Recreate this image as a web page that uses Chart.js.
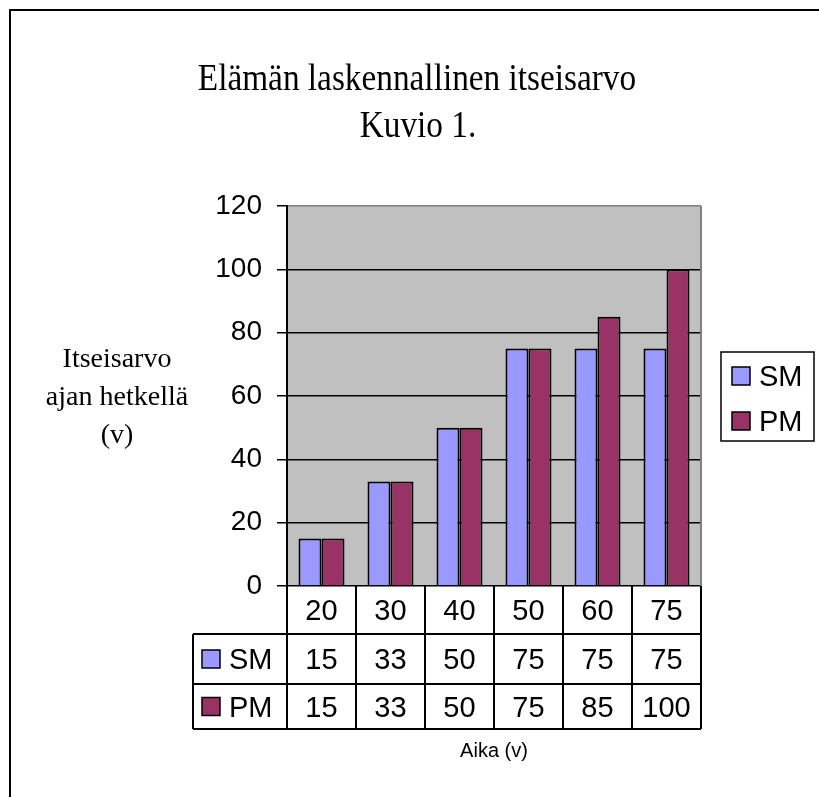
<!DOCTYPE html>
<html><head><meta charset="utf-8">
<script src="https://cdn.jsdelivr.net/npm/chart.js@4.4.0/dist/chart.umd.min.js"></script>
<style>html,body{margin:0;padding:0;background:#fff;} canvas{display:block;}</style>
</head><body>
<canvas id="c" width="819" height="797" style="width:819px;height:797px"></canvas>
<script>
const categories = ['20', '30', '40', '50', '60', '75'];
const smValues = [15, 33, 50, 75, 75, 75];
const pmValues = [15, 33, 50, 75, 85, 100];
const seriesNames = ['SM', 'PM'];
const seriesColors = ['#9999FF', '#993366'];
const yTicks = [0, 20, 40, 60, 80, 100, 120];
const titleLines = ['Elämän laskennallinen itseisarvo', 'Kuvio 1.'];
const yTitleLines = ['Itseisarvo', 'ajan hetkellä', '(v)'];
const xTitle = 'Aika (v)';

const SANS = 'Liberation Sans, Arial, sans-serif';
const SERIF = 'Liberation Serif, Times New Roman, serif';

function txt(ctx, s, x, y, font, align, sx) {
  ctx.save();
  ctx.font = font;
  ctx.fillStyle = '#000';
  ctx.textAlign = align;
  ctx.textBaseline = 'alphabetic';
  ctx.translate(x, y);
  ctx.scale(sx || 1, 1);
  ctx.fillText(s, 0, 0);
  ctx.restore();
}
function marker(ctx, x, y, size, color) {
  ctx.save();
  ctx.fillStyle = color;
  ctx.fillRect(x, y, size, size);
  ctx.strokeStyle = '#000';
  ctx.lineWidth = 1.5;
  ctx.strokeRect(x, y, size, size);
  ctx.restore();
}
function line(ctx, x1, y1, x2, y2, color, w) {
  ctx.save();
  ctx.strokeStyle = color; ctx.lineWidth = w;
  ctx.beginPath(); ctx.moveTo(x1, y1); ctx.lineTo(x2, y2); ctx.stroke();
  ctx.restore();
}

const decor = {
  id: 'decor',
  beforeDraw(chart) {
    const {ctx, chartArea: a} = chart;
    ctx.save();
    ctx.fillStyle = '#fff';
    ctx.fillRect(0, 0, chart.width, chart.height);
    ctx.fillStyle = '#C0C0C0';
    ctx.fillRect(a.left, a.top, a.right - a.left, a.bottom - a.top);
    ctx.restore();
  },
  beforeDatasetsDraw(chart) {
    const {ctx, chartArea: a} = chart;
    line(ctx, a.right, a.top, a.right, a.bottom, '#808080', 2);
  },
  afterDraw(chart) {
    const {ctx, chartArea: a} = chart;
    const xs = chart.scales.x;
    // outer frame
    ctx.save();
    ctx.strokeStyle = '#000'; ctx.lineWidth = 2;
    ctx.beginPath(); ctx.moveTo(10, 797); ctx.lineTo(10, 10); ctx.lineTo(819, 10); ctx.stroke();
    ctx.restore();
    // title
    txt(ctx, titleLines[0], 417, 90, '37px ' + SERIF, 'center', 0.9);
    txt(ctx, titleLines[1], 418, 137, '37px ' + SERIF, 'center', 0.9);
    // y title
    yTitleLines.forEach((s, i) => txt(ctx, s, 117, 367 + i * 38, '28px ' + SERIF, 'center'));
    // legend
    ctx.save();
    ctx.fillStyle = '#fff';
    ctx.fillRect(721, 352, 93, 89);
    ctx.strokeStyle = '#000'; ctx.lineWidth = 1.5;
    ctx.strokeRect(721, 352, 93, 89);
    ctx.restore();
    chart.data.datasets.forEach((ds, i) => {
      const cy = 376 + i * 45;
      marker(ctx, 732, cy - 9, 18, ds.backgroundColor);
      txt(ctx, ds.label, 759, cy + 10, '29px ' + SANS, 'left');
    });
    // data table
    const n = chart.data.labels.length;
    const cw = (a.right - a.left) / n;
    const rows = [a.bottom, a.bottom + 48, a.bottom + 98, a.bottom + 143];
    const tl = 193;
    for (let r = 1; r < rows.length; r++) line(ctx, tl, rows[r], a.right, rows[r], '#000', 2);
    line(ctx, tl, rows[1], tl, rows[3], '#000', 2);
    for (let i = 0; i <= n; i++) {
      const xx = a.left + i * cw;
      line(ctx, xx, rows[0], xx, rows[3], '#000', 2);
    }
    chart.data.labels.forEach((lab, i) => {
      txt(ctx, lab, xs.getPixelForValue(i), rows[0] + 34, '29px ' + SANS, 'center');
    });
    chart.data.datasets.forEach((ds, d) => {
      const top = rows[d + 1], bot = rows[d + 2];
      const cy = (top + bot) / 2;
      marker(ctx, 202, cy - 9, 18, ds.backgroundColor);
      txt(ctx, ds.label, 229, cy + 10, '29px ' + SANS, 'left');
      ds.data.forEach((v, i) => {
        txt(ctx, String(v), xs.getPixelForValue(i), cy + 10, '29px ' + SANS, 'center');
      });
    });
    // x title
    txt(ctx, xTitle, (a.left + a.right) / 2, 757, '20px ' + SANS, 'center');
  }
};

new Chart(document.getElementById('c'), {
  type: 'bar',
  data: {
    labels: categories,
    datasets: [
      {label: seriesNames[0], data: smValues, backgroundColor: seriesColors[0], borderColor: '#000', borderWidth: 2},
      {label: seriesNames[1], data: pmValues, backgroundColor: seriesColors[1], borderColor: '#000', borderWidth: 2}
    ]
  },
  options: {
    responsive: false,
    animation: false,
    devicePixelRatio: 1,
    layout: {padding: {top: 206, right: 118, bottom: 211, left: 0}},
    datasets: {bar: {categoryPercentage: 0.667, barPercentage: 1}},
    plugins: {legend: {display: false}, tooltip: {enabled: false}, title: {display: false}},
    scales: {
      x: {type: 'category', display: false, offset: true},
      y: {
        min: 0, max: 120,
        afterBuildTicks(s) { s.ticks = yTicks.map(v => ({value: v})); },
        afterFit(s) { s.width = 287; },
        ticks: {font: {family: SANS, size: 28}, color: '#000', padding: 15},
        grid: {
          color: c => (c.tick && c.tick.value === 120) ? '#808080' : '#000',
          lineWidth: 1.5, tickLength: 10, tickColor: '#000', drawTicks: true
        },
        border: {color: '#000', width: 2}
      }
    }
  },
  plugins: [decor]
});
</script>
</body></html>
